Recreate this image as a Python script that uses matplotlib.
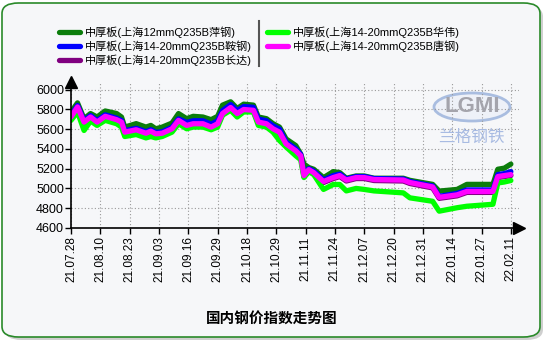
import matplotlib
matplotlib.use("Agg")
import matplotlib.pyplot as plt
from matplotlib.patches import FancyBboxPatch, Ellipse
from matplotlib.lines import Line2D

plt.rcParams['font.family'] = ['Liberation Sans', 'Noto Sans CJK SC']

# trading-day position of each reading (a tick every 9 trading days)
pos = [0, 2, 4, 6, 8, 10.5, 14, 15.5, 16.5, 20,
       23, 24.5, 26, 28, 31, 33, 35.5, 37.5, 40.5, 43,
       45, 46.5, 49, 51, 53, 56, 57.5, 60, 62, 64,
       66, 69, 70.5, 71.5, 73, 74.5, 77.5, 80.5, 82.5, 84.5,
       87.5, 90, 93, 102, 104, 111, 113, 118.5, 121.5, 129.5,
       131, 133, 135]

pinggang = [5773, 5865, 5705, 5757, 5722, 5783, 5757, 5722, 5620, 5655,
            5620, 5637, 5603, 5620, 5661, 5757, 5705, 5729, 5722, 5695,
            5729, 5842, 5876, 5808, 5852, 5842, 5722, 5705, 5655, 5620,
            5501, 5433, 5348, 5246, 5211, 5194, 5109, 5170, 5160, 5103,
            5126, 5126, 5103, 5103, 5082, 5041, 4973, 4990, 5041, 5041,
            5194, 5205, 5246]

angang = [5737, 5839, 5686, 5737, 5686, 5744, 5710, 5686, 5584, 5608,
          5573, 5594, 5567, 5573, 5618, 5703, 5667, 5684, 5684, 5650,
          5684, 5787, 5848, 5787, 5828, 5820, 5701, 5684, 5633, 5599,
          5470, 5400, 5345, 5150, 5200, 5175, 5085, 5130, 5145, 5095,
          5120, 5120, 5100, 5095, 5070, 5025, 4920, 4950, 4985, 4985,
          5140, 5150, 5170]

changda = [5712, 5814, 5661, 5712, 5661, 5719, 5685, 5661, 5559, 5583,
           5548, 5569, 5542, 5548, 5593, 5678, 5627, 5644, 5644, 5610,
           5644, 5747, 5808, 5747, 5788, 5780, 5661, 5644, 5593, 5559,
           5440, 5370, 5320, 5120, 5180, 5150, 5060, 5100, 5120, 5075,
           5100, 5100, 5080, 5075, 5050, 5005, 4900, 4925, 4960, 4960,
           5110, 5120, 5130]

huawei = [5688, 5773, 5586, 5681, 5637, 5688, 5654, 5620, 5525, 5545,
          5511, 5525, 5511, 5525, 5569, 5654, 5603, 5620, 5620, 5593,
          5620, 5740, 5790, 5722, 5773, 5773, 5637, 5620, 5569, 5484,
          5420, 5330, 5290, 5110, 5170, 5140, 4990, 5040, 5040, 4975,
          5000, 4990, 4975, 4955, 4905, 4870, 4770, 4805, 4820, 4840,
          5055, 5065, 5080]

tanggang = [5722, 5824, 5671, 5722, 5671, 5729, 5695, 5671, 5569, 5593,
            5558, 5579, 5552, 5558, 5603, 5688, 5637, 5654, 5654, 5620,
            5654, 5757, 5818, 5757, 5798, 5790, 5671, 5654, 5603, 5569,
            5450, 5380, 5330, 5130, 5190, 5160, 5070, 5110, 5130, 5085,
            5110, 5110, 5090, 5085, 5060, 5015, 4910, 4935, 4970, 4970,
            5120, 5130, 5140]

tick_pos = list(range(0, 136, 9))
tick_labels = ["21.07.28", "21.08.10", "21.08.23", "21.09.03", "21.09.16", "21.09.29",
               "21.10.18", "21.10.29", "21.11.11", "21.11.24", "21.12.07", "21.12.20",
               "21.12.31", "22.01.14", "22.01.27", "22.02.11"]

series = [
    ("中厚板(上海12mmQ235B萍钢)", pinggang, "#0b7d0b"),
    ("中厚板(上海14-20mmQ235B鞍钢)", angang, "#0000ff"),
    ("中厚板(上海14-20mmQ235B长达)", changda, "#800080"),
    ("中厚板(上海14-20mmQ235B华伟)", huawei, "#00ff00"),
    ("中厚板(上海14-20mmQ235B唐钢)", tanggang, "#ff00ff"),
]

W, H = 550, 350
fig = plt.figure(figsize=(W / 100, H / 100), dpi=100)
fig.patch.set_facecolor("white")


def fx(px):
    return px / W


def fy(py):
    return 1 - py / H


# rounded panel with a soft shadow
fig.patches.append(FancyBboxPatch((fx(5), fy(340)), fx(538), fy(6) - fy(340),
                                  boxstyle="round,pad=0,rounding_size=0.03",
                                  transform=fig.transFigure, facecolor="#cfcfcf",
                                  edgecolor="none", zorder=-3))
fig.patches.append(FancyBboxPatch((fx(2), fy(337)), fx(538), fy(3) - fy(337),
                                  boxstyle="round,pad=0,rounding_size=0.03",
                                  transform=fig.transFigure, facecolor="#f6f7f9",
                                  edgecolor="#2a8a2a", linewidth=1.2, zorder=-2))

ax = fig.add_axes([fx(71), fy(228), fx(519) - fx(71), fy(82) - fy(228)])
ax.set_facecolor("none")

handles = []
for label, vals, color in series:
    ln, = ax.plot(pos, vals, color=color, linewidth=3.8, solid_joinstyle="round",
                  solid_capstyle="round", label=label)
    handles.append(ln)

ax.set_xlim(0, 137.5)
ax.set_ylim(4600, 6076)
ax.set_yticks(range(4600, 6001, 200))
ax.set_xticks(tick_pos)
ax.set_xticklabels(tick_labels, rotation=90, fontsize=8.5)
ax.tick_params(axis="y", labelsize=9, length=4, width=1, pad=1)
ax.tick_params(axis="x", length=4, width=1, pad=2)
ax.grid(True, linestyle=(0, (1, 2)), color="#999999", linewidth=0.8)
ax.set_axisbelow(True)
for s in ["top", "right"]:
    ax.spines[s].set_visible(False)
for s in ["left", "bottom"]:
    ax.spines[s].set_linewidth(1.2)
ax.plot([0], [1], marker="^", color="black", markersize=8, transform=ax.transAxes, clip_on=False)
ax.plot([1], [0], marker=">", color="black", markersize=8, transform=ax.transAxes, clip_on=False)

# watermark logo
fig.patches.append(Ellipse((fx(472), fy(107)), fx(76), 28 / H, transform=fig.transFigure,
                           facecolor="#eef1f8", edgecolor="#a9bde0", linewidth=2, zorder=-1))
fig.text(fx(472), fy(106), "LGMI", ha="center", va="center", fontsize=16, fontweight="bold",
         color="#a4a4ac")
fig.text(fx(471), fy(137), "兰格钢铁", ha="center", va="center", fontsize=12,
         color="#a8bbe2", family=["Noto Sans CJK SC"])

# legend
fig.legend(handles=handles, ncol=2, loc="upper left", bbox_to_anchor=(fx(59), fy(26)),
           frameon=False, fontsize=8, handlelength=1.9, handletextpad=0.45,
           columnspacing=1.3, labelspacing=0.25, borderpad=0, borderaxespad=0)
fig.lines.append(Line2D([fx(259), fx(259)], [fy(21), fy(66)], transform=fig.transFigure,
                        color="#555555", linewidth=1.5))

fig.text(fx(272), fy(318), "国内钢价指数走势图", ha="center", va="center", fontsize=10.5,
         fontweight="bold", family=["Noto Sans CJK SC"])

fig.savefig("out.png", dpi=100)
